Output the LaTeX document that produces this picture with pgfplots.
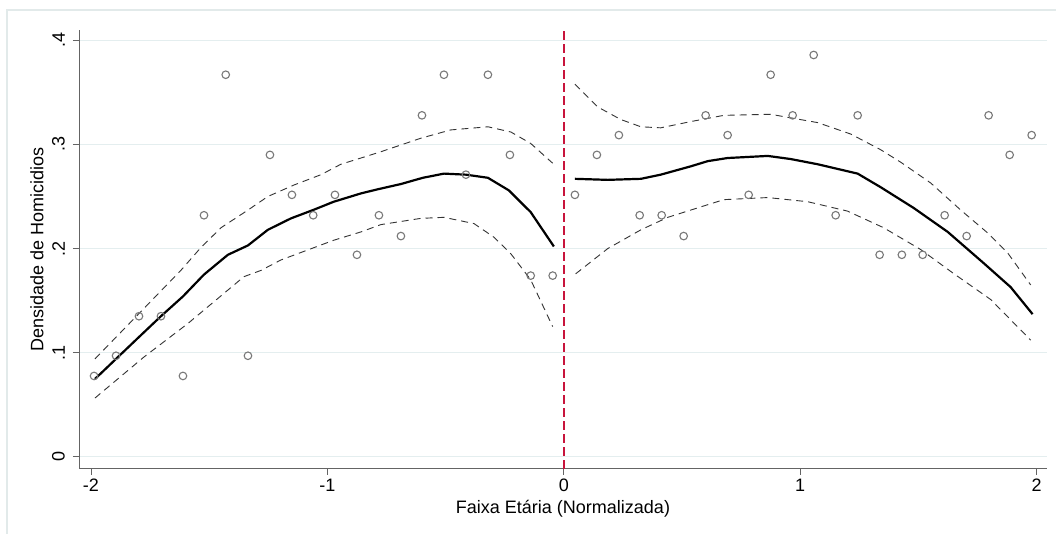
\documentclass[border=0pt]{standalone}
\usepackage{pgfplots}
\pgfplotsset{compat=1.18}
\usepackage{fontspec}
\setmainfont{Liberation Sans}
\definecolor{gridc}{RGB}{228,238,239}
\definecolor{axc}{RGB}{100,100,100}
\definecolor{markc}{RGB}{120,120,120}
\definecolor{redc}{RGB}{200,20,60}
\definecolor{framec}{RGB}{226,234,234}
\begin{document}
\begin{tikzpicture}[x=1pt,y=1pt]
\useasboundingbox (0,0) rectangle (1056,534);
\fill[white] (0,0) rectangle (1056,534);
\draw[framec, line width=1.5pt] (7,-5) -- (7,524) -- (1060,524);
\begin{axis}[
  at={(79pt,65pt)}, anchor=south west,
  scale only axis, width=968pt, height=439pt,
  xmin=-2.0507, xmax=2.044, ymin=-0.0118, ymax=0.41,
  axis x line*=bottom, axis y line*=left,
  axis line style={axc, line width=1pt},
  tick style={axc, line width=0.8pt},
  tick align=outside, major tick length=6pt,
  xtick={-2,-1,0,1,2}, xticklabels={-2,-1,0,1,2},
  ytick={0,0.1,0.2,0.3,0.4}, yticklabels={0,.1,.2,.3,.4},
  ymajorgrids, grid style={gridc, line width=1.2pt},
  every tick label/.append style={font=\fontsize{18}{21}\selectfont, text=black},
  yticklabel style={rotate=90, anchor=south, inner sep=2pt, yshift=6pt},
  xticklabel style={inner sep=2pt, yshift=-2pt},
  xlabel={Faixa Etária (Normalizada)},
  ylabel={Densidade de Homicidios},
  label style={font=\fontsize{18}{21}\selectfont},
  xlabel style={yshift=-3pt},
  ylabel style={yshift=3pt},
  clip=false,
]
% scatter points
\addplot[only marks, mark=o, mark size=3.8pt, mark options={markc, line width=1.1pt}] coordinates {
(-1.987,0.0776) (-1.894,0.097) (-1.797,0.135) (-1.704,0.135) (-1.611,0.0776)
(-1.522,0.232) (-1.43,0.367) (-1.336,0.097) (-1.243,0.290) (-1.15,0.2516)
(-1.06,0.232) (-0.968,0.2516) (-0.875,0.194) (-0.782,0.232) (-0.689,0.212)
(-0.6,0.328) (-0.507,0.367) (-0.414,0.271) (-0.321,0.367) (-0.228,0.290)
(-0.14,0.174) (-0.047,0.174)
(0.047,0.2516) (0.14,0.290) (0.233,0.309) (0.321,0.232) (0.414,0.232)
(0.507,0.212) (0.6,0.328) (0.693,0.309) (0.782,0.2516) (0.875,0.367)
(0.968,0.328) (1.057,0.386) (1.15,0.232) (1.243,0.328) (1.336,0.194)
(1.43,0.194) (1.518,0.194) (1.611,0.232) (1.704,0.212) (1.797,0.328)
(1.886,0.290) (1.979,0.309)
};
% left CI
\addplot[black!80, line width=0.9pt, dash pattern=on 7pt off 5pt] coordinates {
(-1.983,0.094) (-1.797,0.1375) (-1.62,0.179) (-1.535,0.201) (-1.45,0.220)
(-1.336,0.237) (-1.252,0.25) (-1.142,0.261) (-1.027,0.271) (-0.943,0.281)
(-0.858,0.287) (-0.774,0.293) (-0.605,0.306) (-0.478,0.314) (-0.321,0.317)
(-0.224,0.312) (-0.14,0.301) (-0.047,0.282)
};
\addplot[black!80, line width=0.9pt, dash pattern=on 7pt off 5pt] coordinates {
(-1.983,0.0564) (-1.776,0.0958) (-1.59,0.128) (-1.353,0.173) (-1.281,0.179)
(-1.197,0.189) (-0.973,0.208) (-0.858,0.216) (-0.774,0.223) (-0.605,0.229)
(-0.507,0.230) (-0.38,0.224) (-0.296,0.211) (-0.224,0.195) (-0.14,0.170)
(-0.047,0.125)
};
% left fit
\addplot[black, line width=2.2pt] coordinates {
(-1.983,0.0747) (-1.894,0.094) (-1.797,0.115) (-1.704,0.135) (-1.611,0.154)
(-1.522,0.175) (-1.421,0.194) (-1.336,0.203) (-1.252,0.218) (-1.154,0.229)
(-1.061,0.237) (-0.973,0.245) (-0.858,0.253) (-0.786,0.257) (-0.689,0.262)
(-0.596,0.268) (-0.507,0.272) (-0.414,0.271) (-0.321,0.268) (-0.233,0.256)
(-0.140,0.235) (-0.042,0.202)
};
% right CI
\addplot[black!80, line width=0.9pt, dash pattern=on 7pt off 5pt] coordinates {
(0.047,0.358) (0.144,0.336) (0.241,0.324) (0.326,0.317) (0.41,0.316)
(0.537,0.322) (0.677,0.328) (0.875,0.329) (1.074,0.321) (1.214,0.310)
(1.34,0.295) (1.425,0.283) (1.552,0.263) (1.679,0.237) (1.793,0.215)
(1.877,0.196) (1.975,0.165)
};
\addplot[black!80, line width=0.9pt, dash pattern=on 7pt off 5pt] coordinates {
(0.05,0.1757) (0.186,0.200) (0.326,0.218) (0.44,0.230) (0.579,0.240)
(0.677,0.247) (0.863,0.249) (1.032,0.245) (1.2,0.236) (1.353,0.220)
(1.51,0.199) (1.649,0.176) (1.806,0.151) (1.975,0.112)
};
% right fit
\addplot[black, line width=2.2pt] coordinates {
(0.047,0.267) (0.186,0.266) (0.326,0.267) (0.41,0.271) (0.537,0.279)
(0.609,0.284) (0.693,0.287) (0.863,0.289) (0.96,0.286) (1.074,0.281)
(1.243,0.272) (1.34,0.259) (1.48,0.239) (1.624,0.216) (1.776,0.186)
(1.89,0.163) (1.983,0.137)
};
% cutoff
\addplot[redc, line width=1.8pt, dash pattern=on 9pt off 4pt] coordinates {(0,-0.0118) (0,0.41)};
\end{axis}
\end{tikzpicture}
\end{document}
